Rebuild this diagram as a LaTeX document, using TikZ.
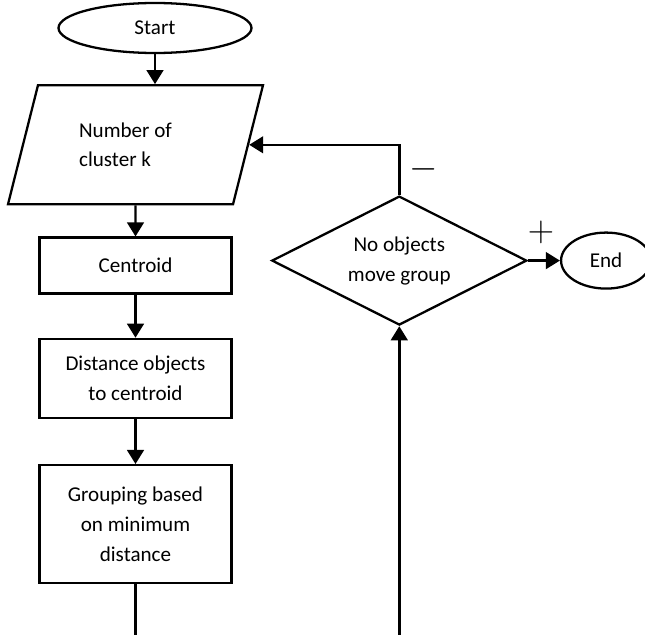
\documentclass[tikz,border=0pt]{standalone}
\usepackage{fontspec}
\setmainfont{Carlito}
\usepackage{tikz}
\usetikzlibrary{positioning,shapes,arrows.meta}

\tikzstyle{flow} = [draw, line width=1.3pt, font=\fontsize{12}{17}\selectfont, align=center]
\tikzstyle{terminal} = [flow, ellipse]
\tikzstyle{io} = [flow, trapezium, trapezium left angle=62, trapezium right angle=118, trapezium stretches body, minimum width=5.1cm, minimum height=2.38cm]
\tikzstyle{process} = [flow, rectangle, minimum width=3.84cm]
\tikzstyle{decision} = [flow, diamond, aspect=2, minimum width=5.1cm, minimum height=2.58cm, inner sep=0pt]
\tikzstyle{line} = [draw, line width=1.4pt]
\tikzstyle{sign} = [font=\fontsize{20}{20}\selectfont]

\begin{document}
\begin{tikzpicture}[node distance = 1cm and 1cm, >={Triangle[length=8pt,width=9.5pt]}]
      \useasboundingbox (0,0) rectangle (12.9,-12.7);
      \coordinate (bottom) at (0,-12.7);

      %%%%%%%%%%%%%%%%%%%%%%%%%%%%%%%%%%%%%%%%%%
      % MAIN COLUMN
      %%%%%%%%%%%%%%%%%%%%%%%%%%%%%%%%%%%%%%%%%%
      \node[terminal, minimum width=3.86cm, minimum height=1cm] (start) at (3.1,-0.56) {Start};
      \node[io, align=left, below=0.6cm of start, xshift=-0.39cm] (num) {Number of\hspace*{0.4cm}\\cluster k};
      \node[process, minimum height=1.12cm, below=0.62cm of num] (cent) {Centroid};
      \node[process, minimum height=1.58cm, below=0.86cm of cent] (dist) {Distance objects\\to centroid};
      \node[process, minimum height=2.36cm, below=0.9cm of dist] (group) {Grouping based\\on minimum\\distance};

      \path[line, ->] (start.south) -- (start.south |- num.north);
      \path[line, ->] (num) -- (cent);
      \path[line, ->] (cent) -- (dist);
      \path[line, ->] (dist) -- (group);
      \coordinate (grpout) at (group.south |- bottom);
      \path[line] (group) -- (grpout);

      %%%%%%%%%%%%%%%%%%%%%%%%%%%%%%%%%%%%%%%%%%
      % DECISION
      %%%%%%%%%%%%%%%%%%%%%%%%%%%%%%%%%%%%%%%%%%
      \node[decision, right=0.76cm of cent, yshift=0.1cm] (move) {No objects\\move group};
      \node[terminal, minimum width=1.8cm, minimum height=1.12cm, right=0.64cm of move] (end) {End};

      \path[line, ->] (move.north) |- (num);
      \node[sign] (minus) at ([xshift=0.48cm, yshift=0.52cm]move.north) {$-$};
      \path[line, ->] (move.east) -- (end.west);
      \node[sign] (plus) at ([xshift=0.26cm, yshift=0.56cm]move.east) {$+$};
      \coordinate (loopin) at (move.south |- bottom);
      \path[line, ->] (loopin) -- (move.south);

\end{tikzpicture}
\end{document}
